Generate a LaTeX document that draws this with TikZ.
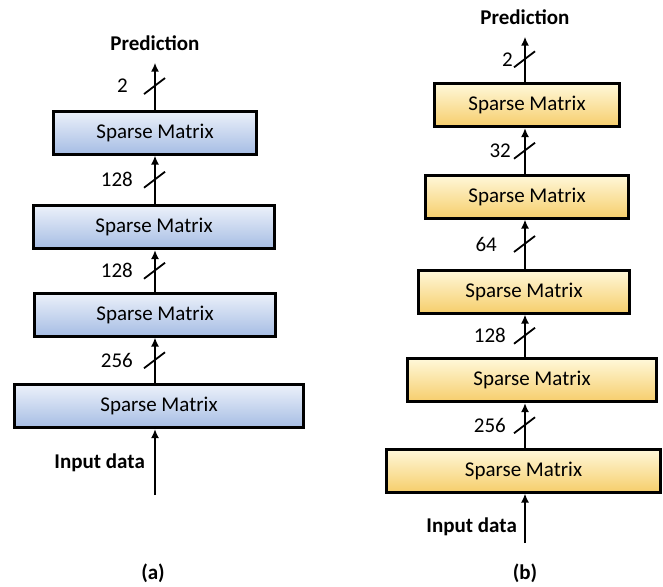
\documentclass[tikz,border=0pt]{standalone}
\usepackage{fontspec}
\setmainfont{Carlito}
\usepackage{xcolor}
\usepackage{tikz}
\usetikzlibrary{arrows.meta, positioning, calc}

\definecolor{blueTop}{RGB}{236,241,250}
\definecolor{blueBot}{RGB}{166,189,228}
\definecolor{goldTop}{RGB}{255,248,218}
\definecolor{goldBot}{RGB}{246,206,108}

\begin{document}
\begin{tikzpicture}[x=1pt, y=-1pt,
    layer/.style={draw, line width=3pt, minimum height=43pt, inner sep=0pt, font=\fontsize{21}{24}\selectfont},
    layerA/.style={layer, top color=blueTop, bottom color=blueBot},
    layerB/.style={layer, top color=goldTop, bottom color=goldBot},
    arrow/.style={-{Latex[length=9pt, width=8pt]}, line width=2pt},
    slash/.style={line width=1.8pt},
    num/.style={font=\fontsize{21}{24}\selectfont, inner sep=0pt},
    outlbl/.style={font=\fontsize{21}{24}\selectfont\bfseries, inner xsep=0pt, inner ysep=12pt},
    inlbl/.style={font=\fontsize{21}{24}\selectfont\bfseries, inner sep=0pt}
]
    \useasboundingbox (0,0) rectangle (663,586);

    % (a) four layers
    \coordinate (inA) at (155,495);
    \node[layerA, minimum width=203pt] (a1) at (155,132.5) {Sparse Matrix};
    \node[layerA, minimum width=241pt] (a2) at (154,227) {Sparse Matrix};
    \node[layerA, minimum width=241pt] (a3) at (155,314.5) {Sparse Matrix};
    \node[layerA, minimum width=289pt] (a4) at (159,406) {Sparse Matrix};
    \node[outlbl] (predA) at (155,43) {Prediction};
    \node[inlbl, anchor=east] (dataA) at (145,463) {Input data};
    \node[font=\fontsize{21}{24}\selectfont\bfseries] (capA) at (153,573) {(a)};

    \draw[arrow] (inA) -- (a4.south -| inA);
    \draw[arrow] (a4.north -| inA) -- (a3.south -| inA) coordinate[midway] (mA3);
    \draw[arrow] (a3.north -| inA) -- (a2.south -| inA) coordinate[midway] (mA2);
    \draw[arrow] (a2.north -| inA) -- (a1.south -| inA) coordinate[midway] (mA1);
    \draw[arrow] (a1.north -| inA) -- (predA.south -| inA) coordinate[midway] (mA0);

    \foreach \m in {mA0, mA1, mA2, mA3}
        \draw[slash] ($(\m)+(-11,8)$) -- ($(\m)+(10,-8)$);
    \node[num, left=27pt of mA0] {2};
    \node[num, left=22pt of mA1] {128};
    \node[num, left=22pt of mA2] {128};
    \node[num, left=22pt of mA3] {256};

    % (b) five layers
    \coordinate (inB) at (525,543);
    \node[layerB, minimum width=185pt] (b1) at (527,105) {Sparse Matrix};
    \node[layerB, minimum width=203pt] (b2) at (527,196.5) {Sparse Matrix};
    \node[layerB, minimum width=211pt] (b3) at (524,291.5) {Sparse Matrix};
    \node[layerB, minimum width=249pt] (b4) at (532,380) {Sparse Matrix};
    \node[layerB, minimum width=274pt] (b5) at (523.5,470.5) {Sparse Matrix};
    \node[outlbl] (predB) at (525,17) {Prediction};
    \node[inlbl, anchor=east] (dataB) at (517,527) {Input data};
    \node[font=\fontsize{21}{24}\selectfont\bfseries] (capB) at (525,573) {(b)};

    \draw[arrow] (inB) -- (b5.south -| inB);
    \draw[arrow] (b5.north -| inB) -- (b4.south -| inB) coordinate[midway] (mB4);
    \draw[arrow] (b4.north -| inB) -- (b3.south -| inB) coordinate[midway] (mB3);
    \draw[arrow] (b3.north -| inB) -- (b2.south -| inB) coordinate[midway] (mB2);
    \draw[arrow] (b2.north -| inB) -- (b1.south -| inB) coordinate[midway] (mB1);
    \draw[arrow] (b1.north -| inB) -- (predB.south -| inB) coordinate[midway] (mB0);

    \foreach \m in {mB0, mB1, mB2, mB3, mB4}
        \draw[slash] ($(\m)+(-11,8)$) -- ($(\m)+(10,-8)$);
    \node[num, left=12pt of mB0] {2};
    \node[num, left=14pt of mB1] {32};
    \node[num, left=28pt of mB2] {64};
    \node[num, left=19pt of mB3] {128};
    \node[num, left=19pt of mB4] {256};
\end{tikzpicture}
\end{document}
